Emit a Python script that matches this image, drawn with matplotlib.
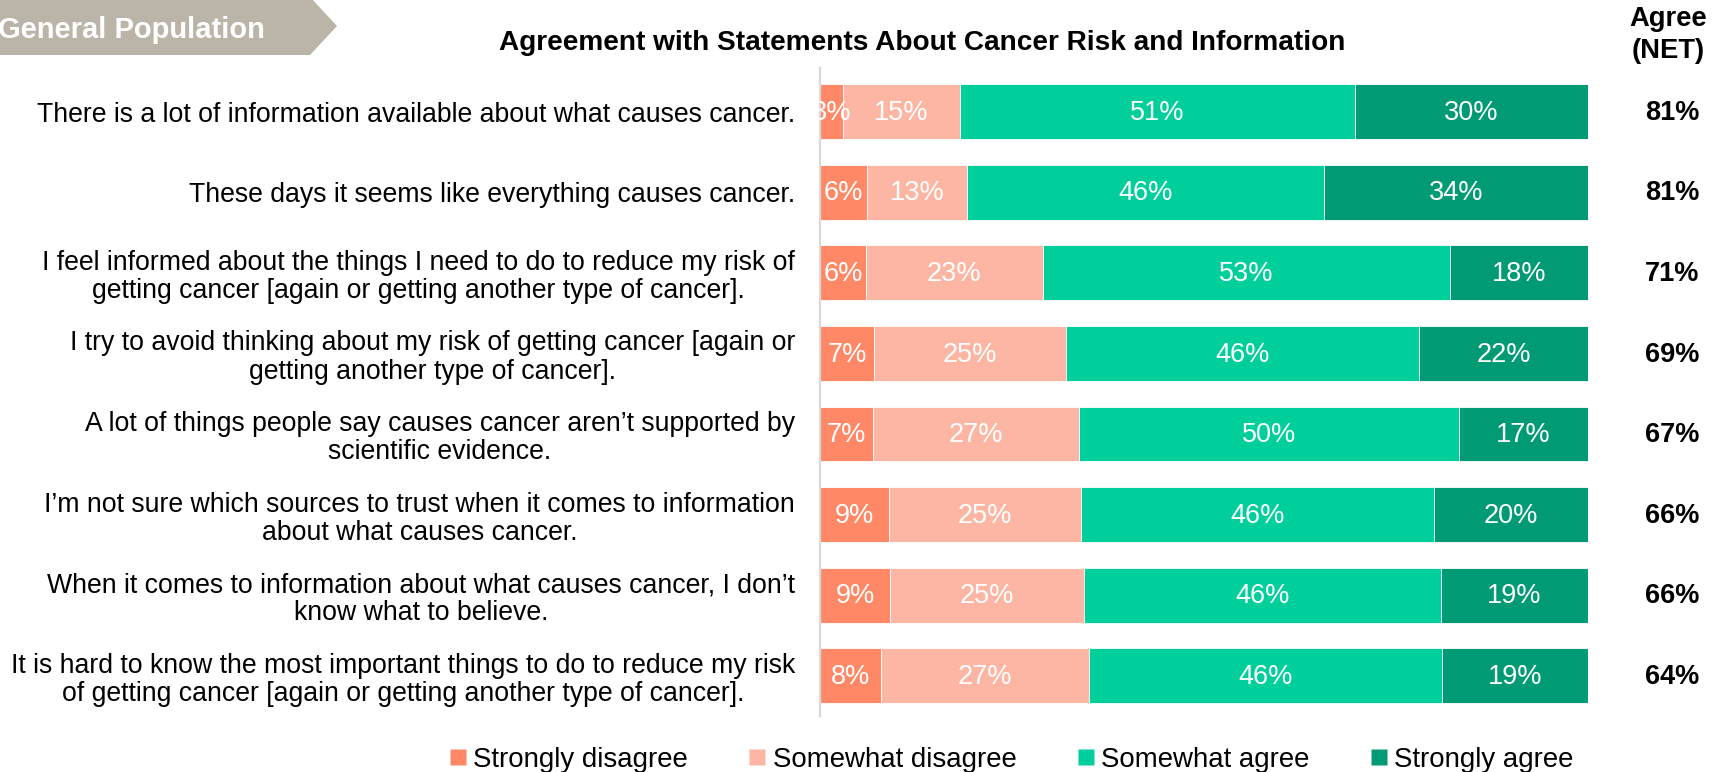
import matplotlib
matplotlib.use("Agg")
import matplotlib.pyplot as plt
import matplotlib.transforms as mtransforms
import numpy as np
from matplotlib.patches import Polygon
from matplotlib.lines import Line2D

plt.rcParams['font.family'] = ['Liberation Sans', 'DejaVu Sans']

categories = [
    "There is a lot of information available about what causes cancer.",
    "These days it seems like everything causes cancer.",
    "I feel informed about the things I need to do to reduce my risk of\ngetting cancer [again or getting another type of cancer].",
    "I try to avoid thinking about my risk of getting cancer [again or\ngetting another type of cancer].",
    "A lot of things people say causes cancer aren\u2019t supported by\nscientific evidence.",
    "I\u2019m not sure which sources to trust when it comes to information\nabout what causes cancer.",
    "When it comes to information about what causes cancer, I don\u2019t\nknow what to believe.",
    "It is hard to know the most important things to do to reduce my risk\nof getting cancer [again or getting another type of cancer].",
]
series_names = ["Strongly disagree", "Somewhat disagree", "Somewhat agree", "Strongly agree"]
strongly_disagree = [3, 6, 6, 7, 7, 9, 9, 8]
somewhat_disagree = [15, 13, 23, 25, 27, 25, 25, 27]
somewhat_agree = [51, 46, 53, 46, 50, 46, 46, 46]
strongly_agree = [30, 34, 18, 22, 17, 20, 19, 19]
agree_net = [81, 81, 71, 69, 67, 66, 66, 64]

colors = ["#FF8866", "#FDB6A3", "#00CF9C", "#009A74"]

W, H = 1727, 772
fig = plt.figure(figsize=(W / 100, H / 100), dpi=100)

def fx(px):
    return px / W

def fy(py):
    return 1 - py / H

ax_left, ax_right, ax_top, ax_bot = 820, 1588, 68, 716
ax = fig.add_axes([fx(ax_left), fy(ax_bot), fx(ax_right - ax_left), (ax_bot - ax_top) / H])

data = np.array([strongly_disagree, somewhat_disagree, somewhat_agree, strongly_agree], dtype=float)
totals = data.sum(axis=0)
norm = data / totals * 100
y = np.arange(len(categories))
left = np.zeros(len(categories))
for k in range(4):
    ax.barh(y, norm[k], left=left, height=0.68, color=colors[k], edgecolor="white",
            linewidth=0.6, label=series_names[k])
    for i in range(len(categories)):
        ax.text(left[i] + norm[k][i] / 2, y[i] + 0.015, f"{int(data[k][i])}%", ha="center", va="center",
                color="white", fontsize=19.5)
    left += norm[k]

ax.set_xlim(0, 100)
ax.set_ylim(len(categories) - 0.5, -0.54)
ax.set_yticks(y)
ax.set_yticklabels(categories, fontsize=19.15, linespacing=1.11)
for t in ax.get_yticklabels():
    t.set_multialignment("center")
ax.tick_params(axis="y", length=0, pad=18)
ax.set_xticks([])
for s in ["top", "right", "bottom"]:
    ax.spines[s].set_visible(False)
ax.spines["left"].set_color("#D9D9D9")
ax.spines["left"].set_linewidth(1.6)

# Agree NET column
trans = mtransforms.blended_transform_factory(fig.transFigure, ax.transData)
for i in range(len(categories)):
    ax.text(fx(1672), y[i] + 0.015, f"{agree_net[i]}%", transform=trans, ha="center", va="center",
            fontsize=19.5, fontweight="bold", color="black")
fig.text(fx(1668), fy(19), "Agree", ha="center", va="center", fontsize=19.7, fontweight="bold")
fig.text(fx(1668), fy(51), "(NET)", ha="center", va="center", fontsize=19.7, fontweight="bold")

# Title
fig.text(fx(922), fy(42.5), "Agreement with Statements About Cancer Risk and Information",
         ha="center", va="center", fontsize=20.2, fontweight="bold")

# Banner
banner = Polygon([(fx(0), fy(-3)), (fx(310), fy(-3)), (fx(337), fy(26)), (fx(310), fy(55)), (fx(0), fy(55))],
                 closed=True, transform=fig.transFigure, facecolor="#BAB5A8", edgecolor="none")
fig.patches.append(banner)
fig.text(fx(-2), fy(30.5), "General Population", ha="left", va="center", fontsize=21,
         fontweight="bold", color="white")

# Legend
handles = [Line2D([0], [0], marker="s", linestyle="none", markersize=11.2, markerfacecolor=c,
                  markeredgecolor="none") for c in colors]
fig.legend(handles, series_names, loc="center", bbox_to_anchor=(fx(1012), fy(760)), ncol=4,
           frameon=False, fontsize=19.9, handlelength=0.55, handletextpad=0.27,
           columnspacing=2.25, borderpad=0, borderaxespad=0)

fig.savefig("out.png", dpi=100)
